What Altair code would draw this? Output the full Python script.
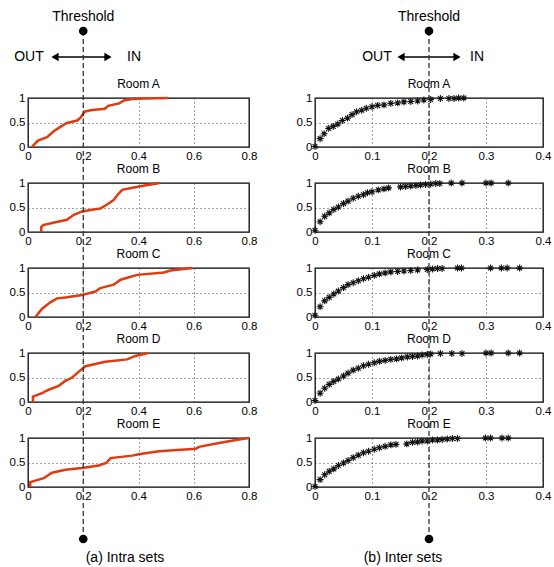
import altair as alt
import pandas as pd

FONT = "Liberation Sans"
RED = "#e03a10"
STAR = "M-1,0L1,0M0,-1L0,1M-0.7,-0.7L0.7,0.7M-0.7,0.7L0.7,-0.7"

rooms = ["Room A", "Room B", "Room C", "Room D", "Room E"]
captions = ["(a) Intra sets", "(b) Inter sets"]
threshold = 0.2
left_xticks = [0, 0.2, 0.4, 0.6, 0.8]
right_xticks = [0, 0.1, 0.2, 0.3, 0.4]
yticks = [0, 0.5, 1]

# Intra sets (left column): CDF curves
intra_A_x = [0.015, 0.036, 0.069, 0.093, 0.117, 0.141, 0.178, 0.19, 0.205, 0.226, 0.278, 0.29, 0.33, 0.347, 0.377, 0.425, 0.507]
intra_A_y = [0.01, 0.13, 0.2, 0.32, 0.41, 0.49, 0.54, 0.6, 0.72, 0.75, 0.78, 0.84, 0.89, 0.95, 0.98, 0.99, 1.0]
intra_B_x = [0.048, 0.048, 0.055, 0.087, 0.141, 0.166, 0.196, 0.226, 0.262, 0.286, 0.31, 0.323, 0.341, 0.401, 0.477]
intra_B_y = [0.0, 0.1, 0.14, 0.185, 0.25, 0.35, 0.42, 0.45, 0.48, 0.56, 0.65, 0.75, 0.86, 0.93, 1.0]
intra_C_x = [0.027, 0.051, 0.081, 0.105, 0.135, 0.196, 0.244, 0.262, 0.31, 0.335, 0.395, 0.492, 0.516, 0.595]
intra_C_y = [0.0, 0.17, 0.3, 0.38, 0.40, 0.45, 0.52, 0.59, 0.66, 0.76, 0.86, 0.91, 0.95, 1.0]
intra_D_x = [0.018, 0.018, 0.051, 0.075, 0.111, 0.135, 0.16, 0.184, 0.208, 0.28, 0.359, 0.389, 0.435]
intra_D_y = [0.0, 0.11, 0.18, 0.25, 0.33, 0.43, 0.5, 0.62, 0.73, 0.82, 0.87, 0.94, 1.0]
intra_E_x = [0.008, 0.008, 0.057, 0.087, 0.135, 0.196, 0.256, 0.283, 0.299, 0.377, 0.401, 0.474, 0.607, 0.619, 0.691, 0.764, 0.8]
intra_E_y = [0.0, 0.1, 0.18, 0.29, 0.35, 0.39, 0.44, 0.49, 0.59, 0.64, 0.67, 0.73, 0.78, 0.82, 0.90, 0.97, 1.0]

# Inter sets (right column): CDF points
inter_A_x = [0, 0.009, 0.016, 0.024, 0.032, 0.04, 0.048, 0.057, 0.065, 0.073, 0.082, 0.09, 0.1, 0.11, 0.121, 0.133, 0.145, 0.156, 0.168, 0.18, 0.191, 0.203, 0.22, 0.235, 0.244, 0.252, 0.261]
inter_A_y = [0.01, 0.17, 0.27, 0.38, 0.42, 0.47, 0.54, 0.59, 0.66, 0.72, 0.75, 0.79, 0.82, 0.85, 0.86, 0.89, 0.90, 0.92, 0.93, 0.94, 0.96, 0.97, 0.99, 0.99, 0.99, 1.0, 1.0]
inter_B_x = [0, 0.009, 0.017, 0.025, 0.033, 0.041, 0.05, 0.058, 0.067, 0.076, 0.085, 0.092, 0.1, 0.111, 0.121, 0.129, 0.15, 0.159, 0.168, 0.177, 0.185, 0.194, 0.203, 0.212, 0.219, 0.239, 0.258, 0.3, 0.309, 0.339]
inter_B_y = [0.035, 0.21, 0.32, 0.39, 0.46, 0.51, 0.58, 0.63, 0.69, 0.73, 0.76, 0.80, 0.82, 0.86, 0.88, 0.9, 0.92, 0.93, 0.94, 0.95, 0.96, 0.97, 0.98, 0.99, 0.99, 1, 1, 1, 1, 1]
inter_C_x = [0, 0.009, 0.017, 0.025, 0.033, 0.041, 0.05, 0.058, 0.067, 0.076, 0.085, 0.094, 0.104, 0.113, 0.123, 0.133, 0.145, 0.156, 0.168, 0.18, 0.197, 0.206, 0.215, 0.223, 0.25, 0.257, 0.308, 0.327, 0.337, 0.359]
inter_C_y = [0.035, 0.21, 0.33, 0.40, 0.47, 0.53, 0.6, 0.66, 0.70, 0.74, 0.78, 0.81, 0.85, 0.88, 0.9, 0.92, 0.93, 0.94, 0.95, 0.96, 0.97, 0.98, 0.99, 0.99, 1, 1, 1, 1, 1, 1]
inter_D_x = [0, 0.009, 0.017, 0.025, 0.033, 0.041, 0.05, 0.058, 0.067, 0.076, 0.085, 0.094, 0.104, 0.113, 0.123, 0.133, 0.143, 0.152, 0.162, 0.171, 0.18, 0.188, 0.197, 0.203, 0.22, 0.24, 0.258, 0.3, 0.309, 0.339, 0.359]
inter_D_y = [0.03, 0.18, 0.28, 0.36, 0.42, 0.47, 0.53, 0.59, 0.65, 0.69, 0.74, 0.77, 0.80, 0.83, 0.85, 0.87, 0.88, 0.90, 0.92, 0.93, 0.94, 0.96, 0.97, 0.98, 0.99, 0.99, 0.99, 1, 1, 1, 1]
inter_E_x = [0, 0.009, 0.017, 0.025, 0.033, 0.041, 0.05, 0.058, 0.067, 0.076, 0.085, 0.094, 0.104, 0.113, 0.123, 0.133, 0.142, 0.161, 0.171, 0.18, 0.188, 0.197, 0.206, 0.215, 0.223, 0.232, 0.241, 0.25, 0.299, 0.308, 0.328, 0.339]
inter_E_y = [0.01, 0.15, 0.25, 0.32, 0.37, 0.44, 0.49, 0.54, 0.6, 0.65, 0.70, 0.73, 0.77, 0.8, 0.83, 0.86, 0.87, 0.88, 0.91, 0.92, 0.94, 0.94, 0.96, 0.96, 0.97, 0.98, 0.99, 0.99, 1, 1, 1, 1]

intra = [(intra_A_x, intra_A_y), (intra_B_x, intra_B_y), (intra_C_x, intra_C_y), (intra_D_x, intra_D_y), (intra_E_x, intra_E_y)]
inter = [(inter_A_x, inter_A_y), (inter_B_x, inter_B_y), (inter_C_x, inter_C_y), (inter_D_x, inter_D_y), (inter_E_x, inter_E_y)]

LW, RW, H = 221, 228, 49
ROWSP, COLSP = 36, 66
PLOT_TOP = 97
LABEL = dict(labelFont=FONT, labelFontSize=11.5, labelColor="black", labelFlush=False,
             labelPadding=3, ticks=False, domain=False, title=None,
             grid=True, gridDash=[1, 3], gridColor="#444", gridWidth=1)


def txt(text, x, y, size=14):
    return alt.Chart(pd.DataFrame({"t": [text]})).mark_text(
        font=FONT, fontSize=size, color="black", baseline="middle", align="center"
    ).encode(text="t:N", x=x, y=alt.value(y))


def panel(xs, ys, title, xmax, xticks, w, kind, idx, col):
    df = pd.DataFrame({"x": xs, "y": ys, "i": list(range(len(xs)))})
    xenc = alt.X("x:Q", scale=alt.Scale(domain=[0, xmax], nice=False, zero=False), axis=alt.Axis(values=xticks, format="~g", **LABEL))
    yenc = alt.Y("y:Q", scale=alt.Scale(domain=[0, 1], nice=False), axis=alt.Axis(values=yticks, format="~g", **LABEL))
    base = alt.Chart(df)
    if kind == "line":
        main = base.mark_line(color=RED, strokeWidth=2.5).encode(x=xenc, y=yenc, order="i:Q")
    else:
        main = base.mark_point(shape=STAR, filled=False, stroke="#111111", strokeWidth=1.1, size=48, opacity=1).encode(x=xenc, y=yenc)
    layers = [main, txt(title, alt.value(w / 2), -14, size=12)]
    top_total = idx * (H + ROWSP)
    if idx == 0:
        if col == 0:
            ox, ax1, ax2, ix = 1, 23, 84, 106
        else:
            ox, ax1, ax2, ix = 62, 82, 146, 162
        ay = -41
        layers.append(txt("Threshold", alt.datum(threshold), -81))
        layers.append(txt("OUT", alt.value(ox), ay))
        layers.append(txt("IN", alt.value(ix), ay))
        layers.append(alt.Chart(pd.DataFrame({"v": [0]})).mark_rule(color="black", strokeWidth=1.4).encode(
            x=alt.value(ax1 + 4), x2=alt.value(ax2 - 4), y=alt.value(ay)))
        layers.append(alt.Chart(pd.DataFrame({"v": [0]})).mark_point(shape="triangle-left", filled=True, color="black", size=70, opacity=1).encode(
            x=alt.value(ax1 + 4), y=alt.value(ay)))
        layers.append(alt.Chart(pd.DataFrame({"v": [0]})).mark_point(shape="triangle-right", filled=True, color="black", size=70, opacity=1).encode(
            x=alt.value(ax2 - 4), y=alt.value(ay)))
    if idx == 4:
        top_y = 30 - (PLOT_TOP + top_total)
        bot_y = 538 - (PLOT_TOP + top_total)
        tdf = pd.DataFrame({"x": [threshold]})
        layers.append(alt.Chart(tdf).mark_rule(color="#333", strokeWidth=1.3, strokeDash=[5, 3]).encode(
            x="x:Q", y=alt.value(top_y), y2=alt.value(bot_y)))
        layers.append(alt.Chart(tdf).mark_point(filled=True, color="black", size=75, opacity=1).encode(
            x="x:Q", y=alt.value(top_y)))
        layers.append(alt.Chart(tdf).mark_point(filled=True, color="black", size=75, opacity=1).encode(
            x="x:Q", y=alt.value(bot_y)))
        cx = 97 if col == 0 else 88
        layers.append(txt(captions[col], alt.value(cx), 557 - (PLOT_TOP + top_total)))
    return alt.layer(*layers).properties(width=w, height=H)


panels = []
for k in range(5):
    panels.append(panel(intra[k][0], intra[k][1], rooms[k], 0.8, left_xticks, LW, "line", k, 0))
    panels.append(panel(inter[k][0], inter[k][1], rooms[k], 0.4, right_xticks, RW, "star", k, 1))

chart = alt.concat(*panels, columns=2, spacing={"row": ROWSP, "column": COLSP}, bounds="flush").properties(
    padding={"left": 8, "top": 9, "right": 2, "bottom": 2}, background="white"
).configure_view(stroke="black", strokeWidth=1.3)

chart.save("out.html", embed_options={"renderer": "svg", "actions": False})
